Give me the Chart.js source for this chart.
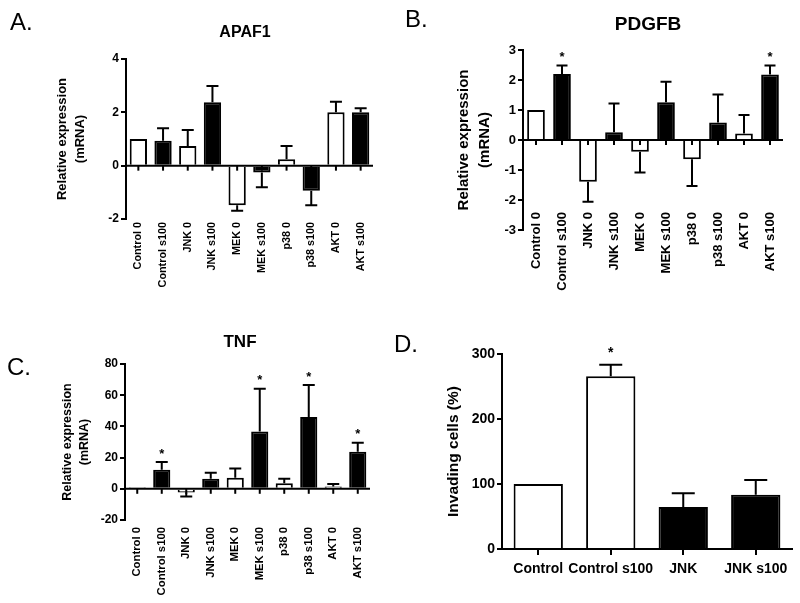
<!DOCTYPE html>
<html>
<head>
<meta charset="utf-8">
<script src="https://cdn.jsdelivr.net/npm/chart.js@4.4.1/dist/chart.umd.min.js"></script>
<style>
  html, body { margin: 0; padding: 0; background: #fff; overflow: hidden; }
  #wrap { position: relative; width: 800px; height: 603px; }
  #wrap canvas { position: absolute; left: 0; top: 0; }
  .lbl { position: absolute; font-family: "Liberation Sans", Arial, sans-serif; color: #000; line-height: 1; white-space: nowrap; }
</style>
</head>
<body>
<div id="wrap">
  <canvas id="cA" width="800" height="603"></canvas>
  <canvas id="cB" width="800" height="603"></canvas>
  <canvas id="cC" width="800" height="603"></canvas>
  <canvas id="cD" width="800" height="603"></canvas>
</div>
<script>
// ---------- data ----------
const treatCats = ['Control 0', 'Control s100', 'JNK 0', 'JNK s100', 'MEK 0', 'MEK s100', 'p38 0', 'p38 s100', 'AKT 0', 'AKT s100'];

const apaf1Mean = [1, 0.93, 0.74, 2.38, -1.48, -0.26, 0.24, -0.94, 2.0, 2.0];
const apaf1Err  = [0, 0.47, 0.60, 0.61, 0.21, 0.55, 0.50, 0.54, 0.40, 0.15];
const apaf1Sig  = [0, 0, 0, 0, 0, 0, 0, 0, 0, 0];

const pdgfbMean = [1, 2.20, -1.39, 0.26, -0.39, 1.26, -0.64, 0.58, 0.22, 2.18];
const pdgfbErr  = [0, 0.28, 0.67, 0.96, 0.69, 0.68, 0.89, 0.94, 0.61, 0.30];
const pdgfbSig  = [0, 1, 0, 0, 0, 0, 0, 0, 0, 1];

const tnfMean = [1, 12.2, -2.4, 6.4, 7.1, 36.8, 3.6, 46.0, 1.5, 23.7];
const tnfErr  = [0, 4.9, 2.5, 3.9, 5.9, 27.4, 2.8, 20.5, 1.5, 5.8];
const tnfSig  = [0, 1, 0, 0, 0, 1, 0, 1, 0, 1];

const invCats = ['Control', 'Control s100', 'JNK', 'JNK s100'];
const invMean = [100, 265.6, 64.6, 83.6];
const invErr  = [0, 18, 21, 22.6];
const invSig  = [0, 1, 0, 0];

// ---------- styles ----------
const FONT = '"Liberation Sans", Arial, sans-serif';
Chart.defaults.font.family = FONT;
Chart.defaults.font.weight = 'bold';
Chart.defaults.color = '#000';
const treatFill = treatCats.map((c, i) => i % 2 === 0 ? '#ffffff' : '#000000');
const invFill = ['#ffffff', '#ffffff', '#000000', '#000000'];

// ---------- error bars / zero line / asterisks ----------
const errPlugin = {
  id: 'errBars',
  afterLayout(chart, args, o) {
    if (o.xShift) chart.scales.x.top += o.xShift;
  },
  afterDatasetsDraw(chart, args, o) {
    const { ctx, chartArea } = chart;
    const xs = chart.scales.x, ys = chart.scales.y;
    const vals = chart.data.datasets[0].data;
    ctx.save();
    ctx.strokeStyle = '#000';
    ctx.fillStyle = '#000';
    ctx.lineWidth = 2;
    if (o.zeroLine) {
      const y0 = ys.getPixelForValue(0);
      ctx.beginPath();
      ctx.moveTo(chartArea.left, y0);
      ctx.lineTo(chartArea.right, y0);
      ctx.stroke();
      vals.forEach((v, i) => {
        const px = xs.getPixelForValue(i);
        ctx.beginPath();
        ctx.moveTo(px, y0);
        ctx.lineTo(px, y0 + o.tick);
        ctx.stroke();
      });
    }
    vals.forEach((v, i) => {
      const e = o.errs[i];
      const px = xs.getPixelForValue(i);
      const dir = v < 0 ? -1 : 1;
      const pv = ys.getPixelForValue(v);
      const pe = ys.getPixelForValue(v + dir * e);
      if (e > 0) {
        ctx.beginPath();
        ctx.moveTo(px, pv);
        ctx.lineTo(px, pe);
        ctx.moveTo(px - o.cap, pe);
        ctx.lineTo(px + o.cap, pe);
        ctx.stroke();
      }
      if (o.sig[i]) {
        ctx.font = 'bold ' + o.starSize + 'px ' + FONT;
        ctx.textAlign = 'center';
        ctx.textBaseline = 'alphabetic';
        ctx.fillText('*', px, Math.min(pe, pv) - o.starGap);
      }
    });
    ctx.restore();
  }
};

function makePanel(id, cfg) {
  const yScale = {
    min: cfg.yMin, max: cfg.yMax,
    afterFit: s => { s.width = cfg.yW; },
    ticks: { stepSize: cfg.step, padding: 2, font: { size: cfg.tickSize, weight: 'bold' }, color: '#000' },
    grid: { display: true, drawOnChartArea: false, drawTicks: true, tickLength: 5, color: '#000', lineWidth: 2 },
    border: { display: true, color: '#000', width: 2 },
    title: { display: true, text: cfg.yTitle, color: '#000', padding: 0,
             font: { size: cfg.titleSize, weight: 'bold', lineHeight: cfg.titleLH } }
  };
  const xScale = {
    afterFit: s => { s.height = cfg.xH; },
    ticks: { autoSkip: false, maxRotation: cfg.rot, minRotation: cfg.rot, padding: cfg.xPad,
             font: { size: cfg.xSize, weight: 'bold' }, color: '#000' },
    grid: cfg.xGrid
      ? { display: true, drawOnChartArea: false, drawTicks: true, tickLength: 6, offset: false, color: '#000', lineWidth: 2 }
      : { display: false, drawTicks: false, tickLength: 0 },
    border: cfg.xGrid ? { display: true, color: '#000', width: 2 } : { display: false }
  };
  return new Chart(document.getElementById(id), {
    type: 'bar',
    data: {
      labels: cfg.labels,
      datasets: [{
        data: cfg.values,
        backgroundColor: cfg.fill,
        borderColor: '#000',
        borderWidth: 2,
        categoryPercentage: 1,
        barPercentage: cfg.barPct
      }]
    },
    options: {
      responsive: false,
      animation: false,
      layout: { padding: cfg.pad },
      scales: { x: xScale, y: yScale },
      plugins: {
        legend: { display: false },
        tooltip: { enabled: false },
        errBars: { errs: cfg.errs, sig: cfg.sig, cap: cfg.cap, zeroLine: !cfg.xGrid, tick: 5,
                   starSize: cfg.starSize, starGap: cfg.starGap, xShift: cfg.xShift || 0 }
      }
    },
    plugins: [errPlugin]
  });
}

// Panel A: APAF1
makePanel('cA', {
  labels: treatCats, values: apaf1Mean, errs: apaf1Err, sig: apaf1Sig, fill: treatFill,
  yMin: -2, yMax: 4, step: 2, yW: 72, xH: 100, rot: 90, xPad: 3, xSize: 10.8, tickSize: 12,
  yTitle: ['Relative expression', '(mRNA)'], titleSize: 13, titleLH: 1.35,
  pad: { left: 54, right: 427, top: 59, bottom: 603 - 219 - 100 },
  barPct: 0.7, cap: 6, starSize: 13, starGap: 4.5, xGrid: false
});

// Panel B: PDGFB
makePanel('cB', {
  labels: treatCats, values: pdgfbMean, errs: pdgfbErr, sig: pdgfbSig, fill: treatFill,
  yMin: -3, yMax: 3, step: 1, yW: 69, xH: 100, rot: 90, xPad: 0, xShift: -18, xSize: 13, tickSize: 13,
  yTitle: ['Relative expression', '(mRNA)'], titleSize: 15, titleLH: 1.35,
  pad: { left: 454, right: 17, top: 50, bottom: 603 - 230 - 100 },
  barPct: 0.68, cap: 5.5, starSize: 13, starGap: 4.5, xGrid: false
});

// Panel C: TNF
makePanel('cC', {
  labels: treatCats, values: tnfMean, errs: tnfErr, sig: tnfSig, fill: treatFill,
  yMin: -20, yMax: 80, step: 20, yW: 66, xH: 80, rot: 90, xPad: 7, xSize: 11.3, tickSize: 12,
  yTitle: ['Relative expression', '(mRNA)'], titleSize: 12.5, titleLH: 1.35,
  pad: { left: 59, right: 430, top: 364, bottom: 603 - 520 - 80 },
  barPct: 0.7, cap: 6, starSize: 13, starGap: 4.5, xGrid: false
});

// Panel D: invasion
makePanel('cD', {
  labels: invCats, values: invMean, errs: invErr, sig: invSig, fill: invFill,
  yMin: 0, yMax: 300, step: 100, yW: 58, xH: 40, rot: 0, xPad: 6, xSize: 14, tickSize: 14,
  yTitle: 'Invading cells (%)', titleSize: 15.5, titleLH: 1.2,
  pad: { left: 444, right: 8, top: 354, bottom: 603 - 549 - 40 },
  barPct: 0.68, cap: 11.5, starSize: 14, starGap: 8, xGrid: true
});

// ---------- panel letters & titles ----------
function addText(txt, x, baseline, size, weight, align) {
  const d = document.createElement('div');
  d.className = 'lbl';
  d.textContent = txt;
  d.style.fontSize = size + 'px';
  d.style.fontWeight = weight;
  d.style.top = (baseline - 0.8465 * size) + 'px';
  d.style.left = x + 'px';
  if (align === 'center') d.style.transform = 'translateX(-50%)';
  document.getElementById('wrap').appendChild(d);
}
addText('A.', 10, 30, 24, 'normal', 'left');
addText('APAF1', 245, 38, 16, 'bold', 'center');
addText('B.', 405, 27, 24, 'normal', 'left');
addText('PDGFB', 648, 30, 19, 'bold', 'center');
addText('C.', 7, 375, 24, 'normal', 'left');
addText('TNF', 240, 347, 17, 'bold', 'center');
addText('D.', 394, 352, 24, 'normal', 'left');
</script>
</body>
</html>
